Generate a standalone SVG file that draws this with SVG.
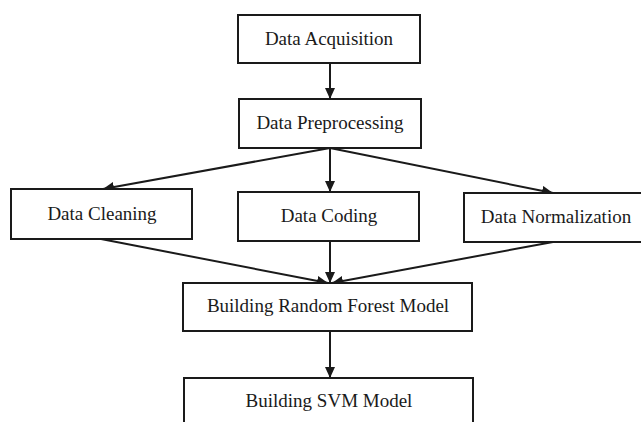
<svg xmlns="http://www.w3.org/2000/svg" width="641" height="422" viewBox="0 0 641 422">
  <style>
    .box { fill: #ffffff; stroke: #1a1a1a; stroke-width: 2; }
    .label { font-family: "Liberation Serif", "Times New Roman", serif; font-size: 19px; fill: #1a1a1a; text-anchor: middle; }
    .edge { stroke: #1a1a1a; stroke-width: 2; fill: none; marker-end: url(#arrow); }
  </style>
  <defs>
    <marker id="arrow" markerWidth="11" markerHeight="10" refX="11" refY="5" orient="auto" markerUnits="userSpaceOnUse">
      <path d="M0,0 L11,5 L0,10 Z" fill="#1a1a1a"/>
    </marker>
  </defs>
  <rect width="641" height="422" fill="#ffffff"/>

  <g id="connectors">
    <line class="edge" x1="330" y1="63" x2="330" y2="99"/>
    <line class="edge" x1="330" y1="148" x2="103" y2="189"/>
    <line class="edge" x1="330" y1="148" x2="330" y2="192"/>
    <line class="edge" x1="330" y1="148" x2="553" y2="193"/>
    <line class="edge" x1="101" y1="239" x2="328" y2="283"/>
    <line class="edge" x1="330" y1="241" x2="330" y2="283"/>
    <line class="edge" x1="553" y1="242" x2="332" y2="283"/>
    <line class="edge" x1="330" y1="331" x2="330" y2="378"/>
  </g>

  <g id="acquisition">
    <rect class="box" x="238" y="15" width="182" height="48"/>
    <text class="label" x="329" y="45">Data Acquisition</text>
  </g>
  <g id="preprocessing">
    <rect class="box" x="239" y="99" width="182" height="49"/>
    <text class="label" x="330" y="129">Data Preprocessing</text>
  </g>
  <g id="cleaning">
    <rect class="box" x="11" y="189" width="181" height="50"/>
    <text class="label" x="102" y="220">Data Cleaning</text>
  </g>
  <g id="coding">
    <rect class="box" x="238" y="192" width="181" height="49"/>
    <text class="label" x="329" y="222">Data Coding</text>
  </g>
  <g id="normalization">
    <rect class="box" x="464" y="193" width="183" height="49"/>
    <text class="label" x="556" y="223">Data Normalization</text>
  </g>
  <g id="random-forest">
    <rect class="box" x="183" y="283" width="289" height="48"/>
    <text class="label" x="328" y="312">Building Random Forest Model</text>
  </g>
  <g id="svm">
    <rect class="box" x="184" y="378" width="289" height="60"/>
    <text class="label" x="329" y="407">Building SVM Model</text>
  </g>
</svg>
